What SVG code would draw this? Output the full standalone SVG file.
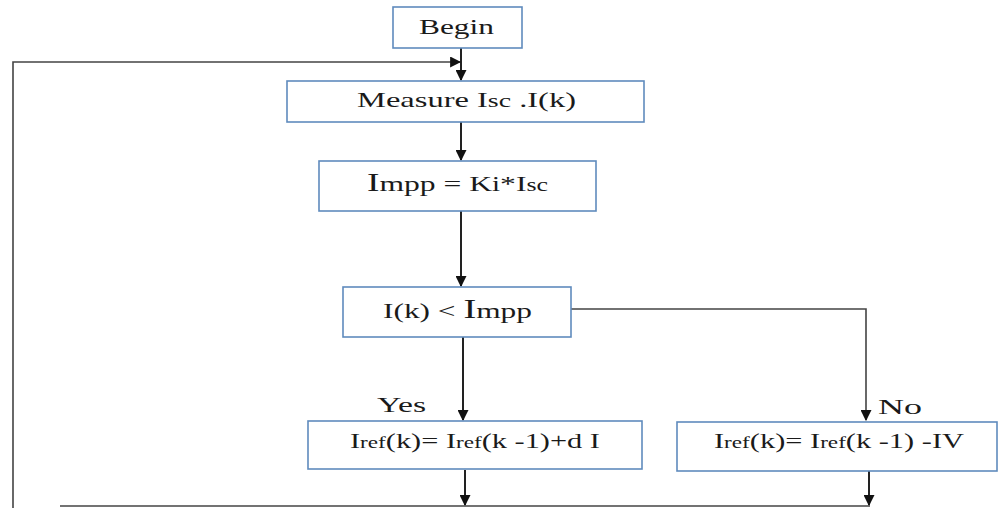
<svg xmlns="http://www.w3.org/2000/svg" width="998" height="508" viewBox="0 0 998 508">
  <defs>
    <marker id="arrow" viewBox="0 0 10 10" refX="9" refY="5" markerWidth="11" markerHeight="11" markerUnits="userSpaceOnUse" orient="auto">
      <path d="M0,0 L10,5 L0,10 z" fill="#111"/>
    </marker>
  </defs>
  <style>
    .box { fill: #fff; stroke: #5f8bbd; stroke-width: 1.6; }
    text { font-family: "Liberation Serif", "Times New Roman", serif; fill: #1a1a1a; }
    .wire { fill: none; stroke: #222; stroke-width: 2; }
    .thin { fill: none; stroke: #444; stroke-width: 1.6; }
    .sm { font-size: 16px; }
  </style>
  <rect width="998" height="508" fill="#fff"/>

  <g id="connectors">
    <line class="wire" x1="461" y1="48" x2="461" y2="80" marker-end="url(#arrow)"/>
    <polyline class="thin" points="13,508 13,62 460,62" marker-end="url(#arrow)"/>
    <line class="wire" x1="461" y1="122" x2="461" y2="160" marker-end="url(#arrow)"/>
    <line class="wire" x1="461" y1="211" x2="461" y2="286" marker-end="url(#arrow)"/>
    <line class="wire" x1="463" y1="337" x2="463" y2="420" marker-end="url(#arrow)"/>
    <polyline class="thin" points="571,309 866,309 866,420" marker-end="url(#arrow)"/>
    <line class="wire" x1="465" y1="470" x2="465" y2="505" marker-end="url(#arrow)"/>
    <line class="wire" x1="869" y1="471" x2="869" y2="505" marker-end="url(#arrow)"/>
    <line class="thin" x1="60" y1="506" x2="870" y2="506"/>
    <text x="377" y="412" font-size="21" textLength="49" lengthAdjust="spacingAndGlyphs">Yes</text>
    <text x="878" y="414" font-size="21" textLength="44" lengthAdjust="spacingAndGlyphs">No</text>
  </g>

  <g id="begin">
    <rect class="box" x="393" y="7" width="129" height="41"/>
    <text x="419" y="34" font-size="22" textLength="75" lengthAdjust="spacingAndGlyphs">Begin</text>
  </g>

  <g id="measure">
    <rect class="box" x="287" y="81" width="357" height="41"/>
    <text x="357" y="107" font-size="21" textLength="219" lengthAdjust="spacingAndGlyphs">Measure  I<tspan font-size="18">sc</tspan> .I(k)</text>
  </g>

  <g id="impp">
    <rect class="box" x="319" y="161" width="277" height="50"/>
    <text x="367" y="191" font-size="22" textLength="181" lengthAdjust="spacingAndGlyphs"><tspan font-size="26">I</tspan>mpp = K<tspan font-size="20">i</tspan>*I<tspan font-size="18">sc</tspan></text>
  </g>

  <g id="decision">
    <rect class="box" x="343" y="287" width="228" height="50"/>
    <text x="383" y="318" font-size="22" textLength="149" lengthAdjust="spacingAndGlyphs">I(k) &lt; <tspan font-size="27">I</tspan>mpp</text>
  </g>

  <g id="increase">
    <rect class="box" x="308" y="421" width="334" height="48"/>
    <text x="350" y="448" font-size="21" textLength="250" lengthAdjust="spacingAndGlyphs">I<tspan class="sm">ref</tspan>(k)= I<tspan class="sm">ref</tspan>(k -1)+d I</text>
  </g>

  <g id="decrease">
    <rect class="box" x="677" y="422" width="320" height="49"/>
    <text x="714" y="448" font-size="21" textLength="250" lengthAdjust="spacingAndGlyphs">I<tspan class="sm">ref</tspan>(k)= I<tspan class="sm">ref</tspan>(k -1) -IV</text>
  </g>
</svg>
